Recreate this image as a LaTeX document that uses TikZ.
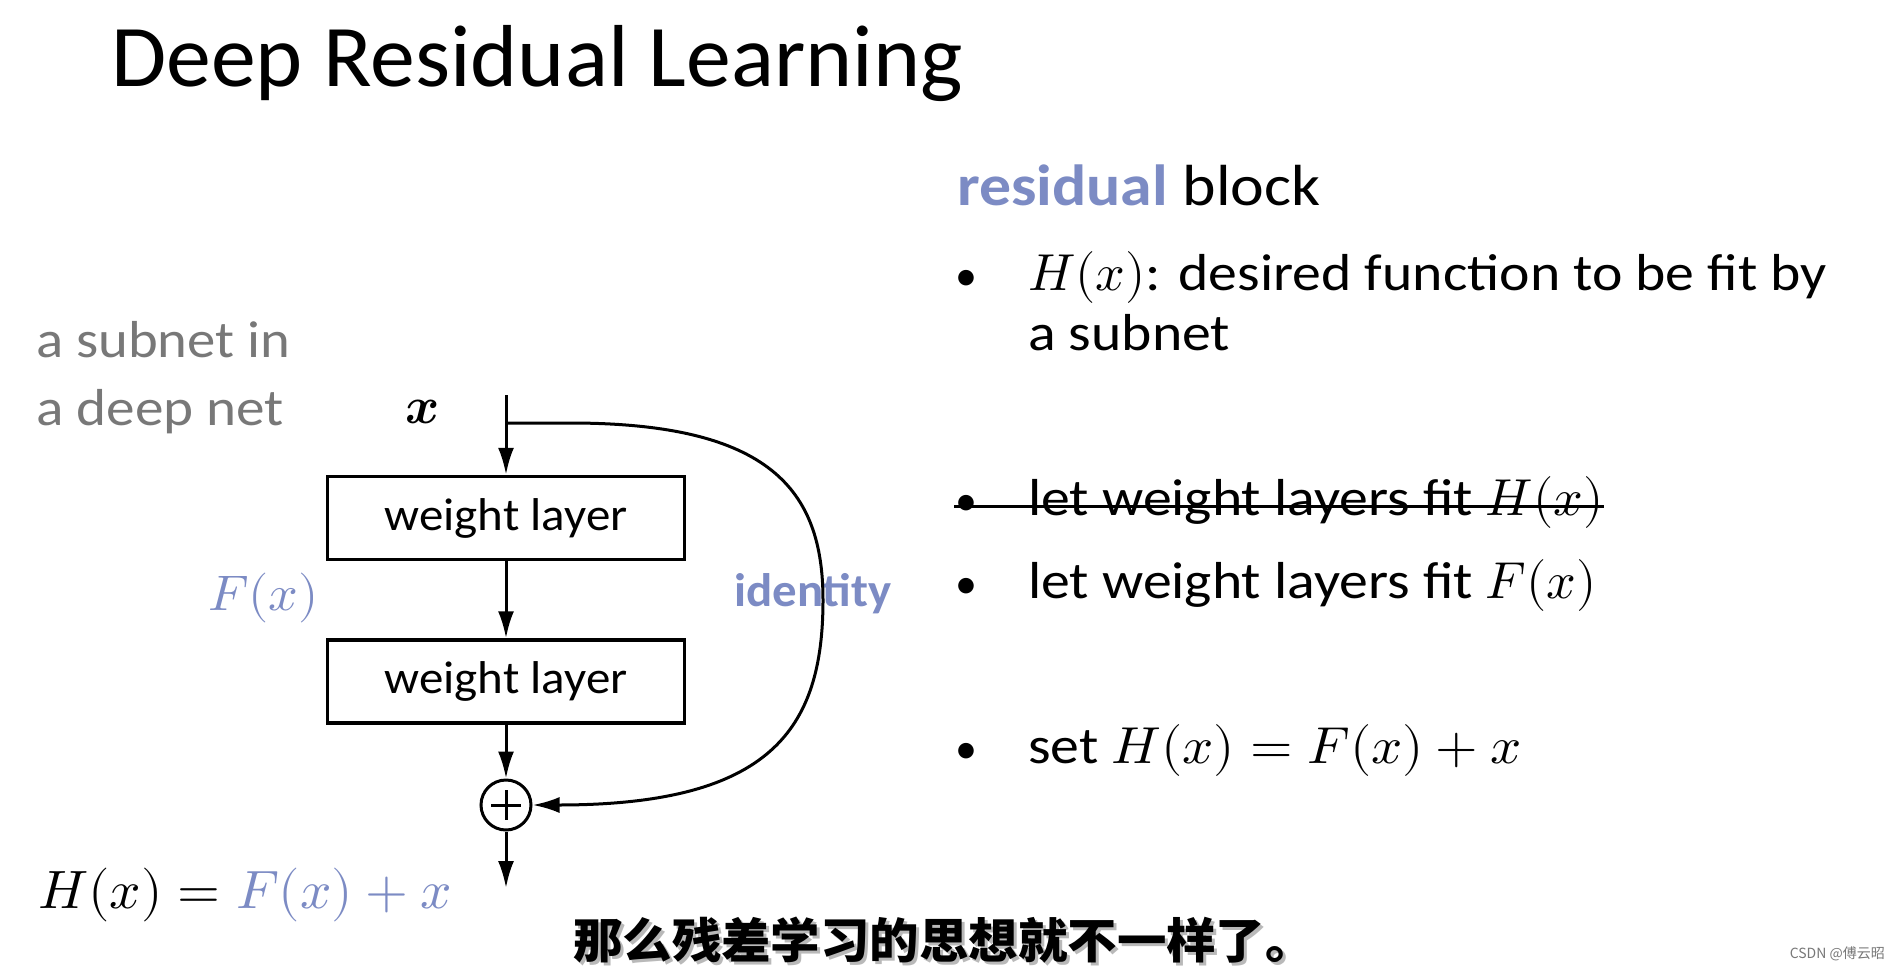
\documentclass[tikz,border=0pt]{standalone}
\usepackage{graphicx}
\usepackage{fontspec}
\usepackage{unicode-math}
\setmainfont{Carlito}
\setmathfont{Latin Modern Math}
\newfontfamily\cjk{Noto Sans CJK SC}
\usetikzlibrary{arrows.meta}
\definecolor{blu}{RGB}{124,139,196}
\definecolor{gry}{RGB}{120,120,120}
\newcommand{\sx}[2]{\scalebox{#1}[1]{#2}}
\begin{document}
\begin{tikzpicture}[x=1pt,y=-1pt,
  txt/.style={anchor=base west,inner sep=0pt,font=\fontsize{52}{60}\selectfont},
  bul/.style={anchor=base west,inner sep=0pt,font=\fontsize{44}{50}\selectfont},
  wbox/.style={draw,line width=3.5pt,minimum width=357pt,minimum height=83pt,inner sep=0pt,font=\fontsize{46}{52}\selectfont},
  arr/.style={line width=3pt,-{Latex[length=27pt,width=16pt]}},
]
\useasboundingbox (0,0) rectangle (1898,969);
\fill[white] (0,0) rectangle (1898,969);
% title
\node[txt,font=\fontsize{88}{100}\selectfont] (title) at (111,86) {\sx{1.02}{Deep Residual Learning}};
% right column
\node[txt,font=\fontsize{58}{66}\selectfont\bfseries,text=blu] (res) at (957,205) {\sx{1.1}{residual}};
\node[txt,font=\fontsize{58}{66}\selectfont] (blk) at (res.base east) {\sx{1.1}{\ block}};
\node[bul] (b1) at (955,290) {•};
\node[txt] (t1) at (1028,290) {$H(x)$\sx{1.11}{: desired function to be fit by}};
\node[txt] (t1b) at (1028,350) {\sx{1.11}{a subnet}};
\node[bul] (b2) at (955,515) {•};
\node[txt] (t2) at (1028,515) {\sx{1.11}{let weight layers fit }$H(x)$};
\draw[line width=3pt] (954,506) coordinate (s1) -- (t2.east |- 0,506) coordinate (s2);
\node[bul] (b3) at (955,598) {•};
\node[txt] (t3) at (1028,598) {\sx{1.11}{let weight layers fit }$F(x)$};
\node[bul] (b4) at (955,763) {•};
\node[txt] (t4) at (1028,763) {\sx{1.11}{set }\sx{1.05}{$H(x)=F(x)+x$}};
% left labels
\node[txt,text=gry] (sub1) at (36,357) {\sx{1.09}{a subnet in}};
\node[txt,text=gry] (sub2) at (36,425) {\sx{1.1}{a deep net}};
\node[txt] (xl) at (405,423) {$\symbfit{x}$};
\node[txt,text=blu,font=\fontsize{50}{60}\selectfont] (fx) at (208,610) {\sx{1.04}{$F(x)$}};
\node[txt,font=\fontsize{47}{52}\selectfont\bfseries,text=blu] (id) at (734,606) {\sx{1.04}{identity}};
\node[txt,font=\fontsize{54}{60}\selectfont] (hx) at (38,908) {\sx{1.02}{$H(x)=\textcolor{blu}{F(x)+x}$}};
% diagram
\node[wbox] (w1) at (506,518) {\raisebox{-2pt}{\sx{1.065}{weight layer}}};
\node[wbox] (w2) at (506,681.5) {\raisebox{-2pt}{\sx{1.065}{weight layer}}};
\node[draw,circle,line width=3pt,minimum size=50pt,inner sep=0pt] (plus) at (506,805) {};
\draw[line width=3pt] (plus.center) ++(-15,0) -- ++(30,0);
\draw[line width=3pt] (plus.center) ++(0,-15) -- ++(0,30);
\coordinate (in) at (506,395);
\coordinate (sk) at (506,423);
\coordinate (out) at (506,888);
\draw[arr] (in) -- (w1);
\draw[arr] (w1) -- (w2);
\draw[arr] (w2) -- (plus);
\draw[arr] (plus) -- (out);
\draw[arr] (sk) -- (570,423) .. controls (770,423) and (823,490) .. (823,600) .. controls (823,730) and (770,805) .. (plus.east);
% subtitle
\node[anchor=west,inner sep=0pt,font=\cjk\bfseries\fontsize{48}{50}\selectfont,text=gray!55] at (576,943) {\sx{1.03}{那么残差学习的思想就不一样了。}};
\node[anchor=west,inner sep=0pt,font=\cjk\bfseries\fontsize{48}{50}\selectfont] (cn) at (573,940) {\sx{1.03}{那么残差学习的思想就不一样了。}};
\node[anchor=east,inner sep=0pt,font=\cjk\fontsize{14}{16}\selectfont,text=gry] (wm) at (1885,954) {CSDN @傅云昭};
\end{tikzpicture}
\end{document}
